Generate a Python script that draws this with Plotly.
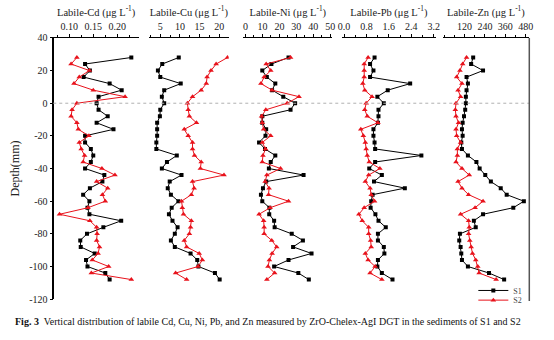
import plotly.graph_objects as go

# Sampling depths (mm), shared by both sites
depth = [28, 24, 20, 16, 12, 8, 4, 0, -4, -8, -12, -16, -20, -24, -28, -32, -36,
         -40, -44, -48, -52, -56, -60, -64, -68, -72, -76, -80, -84, -88, -92, -96,
         -100, -104, -108]

# Labile metal concentrations (ug/L)
cd_s1 = [0.229, 0.133, 0.143, 0.130, 0.184, 0.209, 0.161, 0.157, 0.161, 0.180, 0.157, 0.192,
         0.133, 0.133, 0.145, 0.150, 0.145, 0.133, 0.173, 0.169, 0.143, 0.129, 0.142, 0.138,
         0.142, 0.208, 0.171, 0.137, 0.123, 0.124, 0.153, 0.135, 0.138, 0.175, 0.184]
cd_s2 = [0.116, 0.104, 0.142, 0.121, 0.110, 0.150, 0.216, 0.116, 0.106, 0.104, 0.116, 0.119,
         0.141, 0.121, 0.125, 0.132, 0.129, 0.168, 0.195, 0.157, 0.180, 0.169, 0.175, 0.139,
         0.080, 0.143, 0.157, 0.158, 0.157, 0.163, 0.160, 0.148, 0.182, 0.146, 0.229]

cu_s1 = [9.7, 5.5, 4.4, 5.0, 10.2, 6.0, 5.4, 6.0, 5.0, 4.9, 4.2, 4.2, 4.2, 4.0, 4.0, 9.2, 6.7,
         5.4, 10.4, 7.4, 6.9, 7.7, 9.6, 7.9, 7.2, 8.1, 9.4, 8.7, 7.7, 8.7, 12.7, 14.4, 14.7,
         18.9, 20.1]
cu_s2 = [22.1, 19.2, 17.9, 16.9, 16.7, 15.4, 13.2, 11.9, 12.1, 12.4, 14.2, 11.1, 12.1, 13.2,
         13.2, 13.7, 15.4, 15.2, 21.2, 13.2, 13.6, 12.9, 10.4, 10.6, 10.9, 12.9, 12.7, 12.4,
         11.1, 11.7, 14.9, 15.7, 14.6, 8.9, 11.7]

ni_s1 = [25.4, 15.3, 9.9, 12.6, 17.6, 15.7, 22.3, 29.3, 26.6, 9.9, 9.9, 12.2, 11.8, 8.0, 11.5,
         17.6, 14.9, 13.8, 34.3, 12.2, 10.3, 9.1, 9.9, 14.1, 14.0, 16.9, 17.2, 27.3, 33.9,
         28.1, 39.0, 25.4, 16.9, 31.2, 37.4]
ni_s2 = [26.6, 12.2, 14.9, 11.0, 9.1, 15.7, 31.6, 24.6, 12.0, 9.5, 9.9, 10.7, 14.9, 9.9, 11.8,
         10.3, 9.9, 20.7, 12.6, 11.6, 13.9, 13.6, 25.4, 14.5, 8.0, 10.7, 11.0, 11.0, 15.5,
         18.4, 15.7, 14.1, 13.3, 17.2, 12.6]

pb_s1 = [1.09, 0.93, 1.05, 0.93, 2.36, 1.56, 1.19, 1.42, 1.23, 1.23, 1.21, 1.05, 1.05, 1.09,
         1.11, 2.76, 1.11, 0.90, 1.35, 1.07, 2.17, 1.02, 0.97, 0.95, 1.12, 1.23, 1.49, 1.21,
         1.21, 1.42, 1.44, 1.21, 1.19, 1.35, 1.73]
pb_s2 = [0.86, 0.72, 0.72, 0.72, 0.67, 0.74, 1.00, 0.79, 0.74, 0.83, 1.21, 0.60, 0.69, 0.76,
         0.79, 0.83, 0.90, 1.28, 0.88, 0.76, 0.93, 0.97, 1.09, 0.72, 0.53, 0.65, 0.88, 0.88,
         0.95, 0.97, 0.76, 0.86, 1.11, 0.93, 1.35]

zn_s1 = [171, 159, 229, 132, 140, 132, 128, 128, 124, 117, 109, 105, 109, 101, 105, 140, 190,
         209, 242, 275, 333, 368, 469, 407, 229, 175, 186, 93, 89, 97, 101, 105, 140, 264, 353]
zn_s2 = [132, 109, 93, 74, 105, 82, 97, 70, 66, 70, 85, 70, 74, 97, 78, 78, 70,
         105, 148, 82, 105, 144, 229, 182, 97, 144, 148, 144, 151, 159, 167, 186, 198, 206, 306]

panel_titles = ["Labile-Cd (μg L<sup>-1</sup>)", "Labile-Cu (μg L<sup>-1</sup>)",
                "Labile-Ni (μg L<sup>-1</sup>)", "Labile-Pb (μg L<sup>-1</sup>)",
                "Labile-Zn (μg L<sup>-1</sup>)"]
tick_vals = [[0.10, 0.15, 0.20], [5, 10, 15, 20], [0, 10, 20, 30, 40, 50],
             [0.0, 0.8, 1.6, 2.4, 3.2], [120, 240, 360, 480]]
tick_text = [["0.10", "0.15", "0.20"], ["5", "10", "15", "20"],
             ["0", "10", "20", "30", "40", "50"], ["0.0", "0.8", "1.6", "2.4", "3.2"],
             ["120", "240", "360", "480"]]
minor_step = [0.025, 2.5, 5, 0.4, 60]
x_ranges = [[0.067, 0.245], [2.1, 22.4], [-1.2, 51.2], [-0.07, 3.27], [-9, 501]]
depth_ticks = [40, 20, 0, -20, -40, -60, -80, -100, -120]
depth_text = ["40", "20", "0", "-20", "-40", "-60", "-80", "-100", "-120"]
series = [(cd_s1, cd_s2), (cu_s1, cu_s2), (ni_s1, ni_s2), (pb_s1, pb_s2), (zn_s1, zn_s2)]

W, H = 554, 340
FONT = "Liberation Serif"


def fx(p):
    return p / W


def fy(p):
    return 1 - p / H


panel_px = [(50, 137), (147, 228), (243, 333), (343, 438), (445, 533)]
y_top, y_bot = 34, 304

fig = go.Figure()
for i, (s1, s2) in enumerate(series):
    xa = "x" if i == 0 else f"x{i + 1}"
    last = i == len(series) - 1
    fig.add_trace(go.Scatter(
        x=s1, y=depth, xaxis=xa, yaxis="y", mode="lines+markers", name="S1",
        line=dict(color="black", width=1),
        marker=dict(symbol="square", size=4, color="black"),
        showlegend=last, legend="legend"))
    fig.add_trace(go.Scatter(
        x=s2, y=depth, xaxis=xa, yaxis="y", mode="lines+markers", name="S2",
        line=dict(color="#e8121b", width=1),
        marker=dict(symbol="triangle-up", size=5, color="#e8121b"),
        showlegend=last, legend="legend2"))

    ax = dict(
        domain=[fx(panel_px[i][0]), fx(panel_px[i][1])],
        range=x_ranges[i], side="top", anchor="y",
        showline=True, linecolor="black", linewidth=1,
        ticks="outside", ticklen=3, tickwidth=1, tickcolor="black",
        tickvals=tick_vals[i], ticktext=tick_text[i],
        minor=dict(ticks="outside", ticklen=2, dtick=minor_step[i],
                   tick0=tick_vals[i][0], tickcolor="black"),
        showgrid=False, zeroline=False,
        tickfont=dict(family=FONT, size=10, color="#222"),
        title=dict(text=panel_titles[i], font=dict(family=FONT, size=10.5, color="#222"),
                   standoff=2),
    )
    key = "xaxis" if i == 0 else f"xaxis{i + 1}"
    fig.update_layout({key: ax})

legend_style = dict(xanchor="right", yanchor="middle",
                    font=dict(family=FONT, size=8, color="#444"),
                    bgcolor="rgba(0,0,0,0)", itemwidth=30,
                    borderwidth=0)

fig.update_layout(
    width=W, height=H,
    margin=dict(l=0, r=0, t=0, b=0),
    paper_bgcolor="white", plot_bgcolor="white",
    font=dict(family=FONT, color="#222"),
    yaxis=dict(
        domain=[fy(y_bot), fy(y_top)], range=[-120, 40],
        anchor="free", position=fx(50),
        showline=True, linecolor="black", linewidth=1.5,
        ticks="outside", ticklen=3, tickcolor="black",
        tickvals=depth_ticks, ticktext=depth_text,
        showgrid=False, zeroline=False,
        tickfont=dict(family=FONT, size=10, color="#222"),
        title=dict(text="Depth(mm)", font=dict(family=FONT, size=12, color="#222"),
                   standoff=6),
    ),
    legend=dict(x=fx(531), y=fy(295), **legend_style),
    legend2=dict(x=fx(531), y=fy(305), **legend_style),
    shapes=[
        dict(type="line", xref="paper", yref="y", x0=fx(50), x1=fx(533), y0=0, y1=0,
             line=dict(color="#b0b0b0", width=1, dash="dot")),
        dict(type="line", xref="paper", yref="paper", x0=fx(533), x1=fx(533),
             y0=fy(306), y1=fy(y_top), line=dict(color="#555", width=1.5)),
    ],
    annotations=[
        dict(xref="paper", yref="paper", x=fx(9), y=fy(327), xanchor="left", yanchor="middle",
             showarrow=False,
             text="<b>Fig. 3</b>  Vertical distribution of labile Cd, Cu, Ni, Pb, and Zn "
                  "measured by ZrO-Chelex-AgI DGT in the sediments of S1 and S2",
             font=dict(family=FONT, size=10, color="#111")),
    ],
)

fig.write_html("out.html")
